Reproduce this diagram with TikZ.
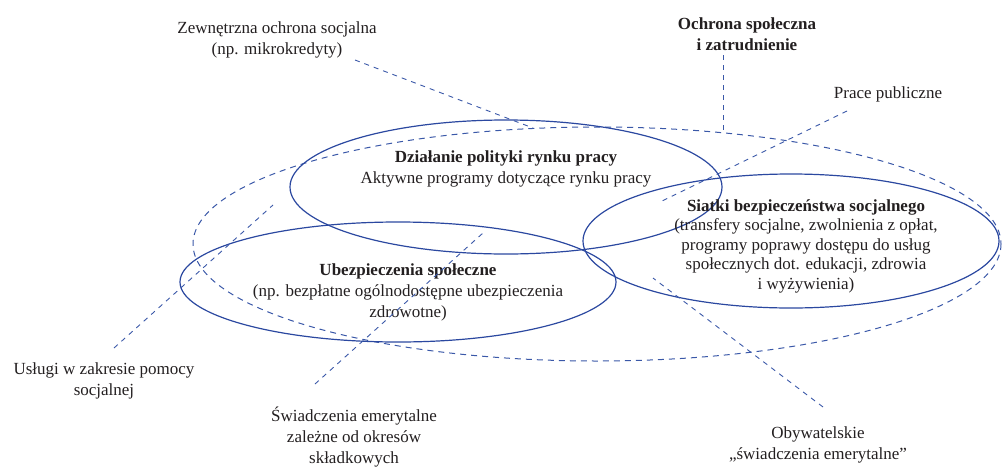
\documentclass[tikz,border=0pt]{standalone}
\usepackage{fontspec}
\setmainfont{Liberation Serif}
\usetikzlibrary{positioning}
\definecolor{ringblue}{HTML}{2B48A0}
\definecolor{leadblue}{HTML}{3A58A8}
\definecolor{inkgray}{HTML}{231F20}
\tikzset{
    ring/.style={draw=ringblue,line width=1.2pt},
    bigring/.style={draw=leadblue,line width=1pt,dash pattern=on 6pt off 5pt},
    leader/.style={draw=leadblue,line width=0.9pt,dash pattern=on 5pt off 5pt},
    lbl/.style={text=inkgray,align=center,inner sep=0pt,
        font=\fontsize{17}{21}\selectfont},
}
\begin{document}
\begin{tikzpicture}[x=1pt,y=-1pt]
        \useasboundingbox (0,0) rectangle (1003,466);
        %% rings
        \draw[bigring] (597,244) ellipse [x radius=404,y radius=117];
        \draw[ring] (506,187) ellipse [x radius=216,y radius=67];
        \draw[ring] (398,282) ellipse [x radius=218,y radius=60];
        \draw[ring] (791,241) ellipse [x radius=208,y radius=67];
        %% texts inside
        \node[lbl] (rynek) at (506,169) {\textbf{Działanie polityki rynku pracy}\\Aktywne programy dotyczące rynku pracy};
        \node[lbl] (ubezp) at (408,292) {\textbf{Ubezpieczenia społeczne}\\(np. bezpłatne ogólnodostępne ubezpieczenia\\zdrowotne)};
        \node[lbl,font=\fontsize{17}{19.5}\selectfont] (siatki) at (806,246) {\textbf{Siatki bezpieczeństwa socjalnego}\\(transfery socjalne, zwolnienia z opłat,\\programy poprawy dostępu do usług\\społecznych dot. edukacji, zdrowia\\i wyżywienia)};
        %% labels outside
        \node[lbl] (ochrona) at (747,34) {\textbf{Ochrona społeczna}\\\textbf{i zatrudnienie}};
        \node[lbl] (zewn) at (277,40) {Zewnętrzna ochrona socjalna\\(np. mikrokredyty)};
        \node[lbl] (prace) at (888,94) {Prace publiczne};
        \node[lbl] (uslugi) at (104,381) {Usługi w zakresie pomocy\\socjalnej};
        \node[lbl] (emeryt) at (354,437) {Świadczenia emerytalne\\zależne od okresów\\składkowych};
        \node[lbl] (obyw) at (818,445) {Obywatelskie\\„świadczenia emerytalne”};
        %% leader ends
        \coordinate (ochronaT) at (723,55);
        \coordinate (ochronaB) at (723,133);
        \coordinate (zewnT) at (355,60);
        \coordinate (zewnB) at (533,128);
        \coordinate (praceT) at (847,111);
        \coordinate (praceB) at (660,202);
        \coordinate (uslugiT) at (114,348);
        \coordinate (uslugiB) at (273,205);
        \coordinate (emerytT) at (315,384);
        \coordinate (emerytB) at (483,233);
        \coordinate (obywT) at (823,407);
        \coordinate (obywB) at (653,278);
        \foreach \a in {ochrona,zewn,prace,uslugi,emeryt,obyw}
            \draw[leader] (\a T) -- (\a B);
    \end{tikzpicture}
\end{document}
